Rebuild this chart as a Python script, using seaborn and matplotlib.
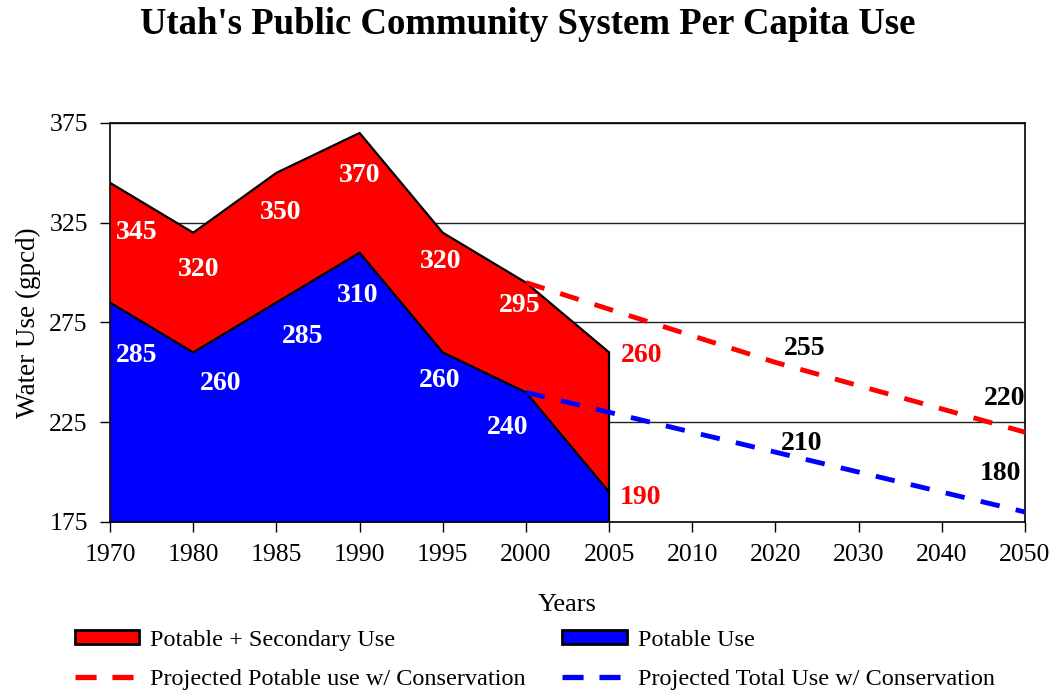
import numpy as np
import pandas as pd
import seaborn as sns
import matplotlib.pyplot as plt
from matplotlib.patches import Patch
from matplotlib.lines import Line2D
from matplotlib.transforms import offset_copy

# ---- data ----
years = ['1970', '1980', '1985', '1990', '1995', '2000', '2005',
         '2010', '2020', '2030', '2040', '2050']
hist_years = ['1970', '1980', '1985', '1990', '1995', '2000', '2005']
total_use = [345, 320, 350, 370, 320, 295, 260]
potable_use = [285, 260, 285, 310, 260, 240, 190]
proj_years = ['2000', '2020', '2050']
proj_potable = [295, 255, 220]
proj_total = [240, 210, 180]
y_ticks = [175, 225, 275, 325, 375]

# ---- styling ----
sns.set_theme(style='white')
plt.rcParams['font.family'] = ['Liberation Serif', 'DejaVu Serif']
plt.rcParams.update({'text.color': 'black', 'axes.labelcolor': 'black',
                     'xtick.color': 'black', 'ytick.color': 'black'})

fig = plt.figure(figsize=(10.55, 6.91), dpi=100)
ax = fig.add_axes([0.1043, 0.2446, 0.8673, 0.5774])

xpos = {y: i for i, y in enumerate(years)}
hx = np.array([xpos[y] for y in hist_years])
px = np.array([xpos[y] for y in proj_years])

RED = '#ff0000'
BLUE = '#0000ff'

for yv in [225, 275, 325, 375]:
    ax.axhline(yv, color='#222222', lw=1.0, zorder=0)

ax.fill_between(hx, 175, total_use, color=RED, zorder=1, lw=0)
ax.fill_between(hx, 175, potable_use, color=BLUE, zorder=2, lw=0)
ax.plot(hx, total_use, color='black', lw=1.6, zorder=3)
ax.plot(hx, potable_use, color='black', lw=1.6, zorder=3)
ax.plot([hx[-1], hx[-1]], [175, total_use[-1]], color='black', lw=1.6, zorder=3)

DASH = (0, (4, 3.4))
df_p = pd.DataFrame({'x': px, 'potable': proj_potable, 'total': proj_total})
sns.lineplot(data=df_p, x='x', y='potable', ax=ax, color=RED, lw=3.5,
             dashes=False, zorder=4, linestyle=DASH)
sns.lineplot(data=df_p, x='x', y='total', ax=ax, color=BLUE, lw=3.5,
             dashes=False, zorder=4, linestyle=DASH)

ax.set_xlim(0, len(years) - 1)
ax.set_ylim(175, 375)
ax.set_xticks(range(len(years)))
ax.set_xticklabels(years)
ax.set_yticks(y_ticks)
ax.tick_params(axis='both', labelsize=18.5, direction='out', length=7,
               width=1, color='black', left=True, bottom=True)
ax.tick_params(axis='x', pad=9)
ax.tick_params(axis='y', pad=9)
for s in ax.spines.values():
    s.set_color('black')
    s.set_linewidth(1.2)
ax.set_xlabel('Years', fontsize=19, labelpad=20)
ax.set_ylabel('Water Use (gpcd)', fontsize=19.5, labelpad=6)

# data labels (offsets in pixels: dx right, dy up)
lab_kw = dict(fontsize=20, fontweight='bold', ha='center', va='center', zorder=6)
tot_off = [(27, -50), (5, -37), (4, -40), (0, -43), (-2, -29), (-6, -23), (32, -3)]
pot_off = [(27, -53), (27, -31), (26, -34), (-2, -43), (-3, -28), (-18, -35), (31, -5)]
proj_off_p = [(29, 14), (-20, 34)]
proj_off_t = [(26, 9), (-25, 39)]


def put(x, v, off, color):
    tr = offset_copy(ax.transData, fig=fig, x=off[0], y=off[1], units='dots')
    ax.text(x, v, str(v), color=color, transform=tr, **lab_kw)


for i, v in enumerate(total_use):
    put(hx[i], v, tot_off[i], RED if i == len(total_use) - 1 else 'white')
for i, v in enumerate(potable_use):
    put(hx[i], v, pot_off[i], RED if i == len(potable_use) - 1 else 'white')
for i in range(1, len(px)):
    put(px[i], proj_potable[i], proj_off_p[i - 1], 'black')
    put(px[i], proj_total[i], proj_off_t[i - 1], 'black')

fig.suptitle("Utah's Public Community System Per Capita Use", fontsize=26.5,
             fontweight='bold', x=0.5, y=0.99)

leg_kw = dict(loc='upper left', frameon=False, fontsize=17.5, handlelength=2.65,
              handleheight=0.55, handletextpad=0.45, labelspacing=0.78,
              borderaxespad=0, borderpad=0)
LDASH = (0, (4, 3))
h1 = [Patch(facecolor=RED, edgecolor='black', lw=2),
      Line2D([], [], color=RED, lw=3.8, linestyle=LDASH)]
l1 = ['Potable + Secondary Use', 'Projected Potable use w/ Conservation']
h2 = [Patch(facecolor=BLUE, edgecolor='black', lw=2),
      Line2D([], [], color=BLUE, lw=3.8, linestyle=LDASH)]
l2 = ['Potable Use', 'Projected Total Use w/ Conservation']
fig.legend(h1, l1, bbox_to_anchor=(0.071, 0.089), **leg_kw)
fig.legend(h2, l2, bbox_to_anchor=(0.533, 0.089), **leg_kw)

fig.savefig('out.png', dpi=100)
